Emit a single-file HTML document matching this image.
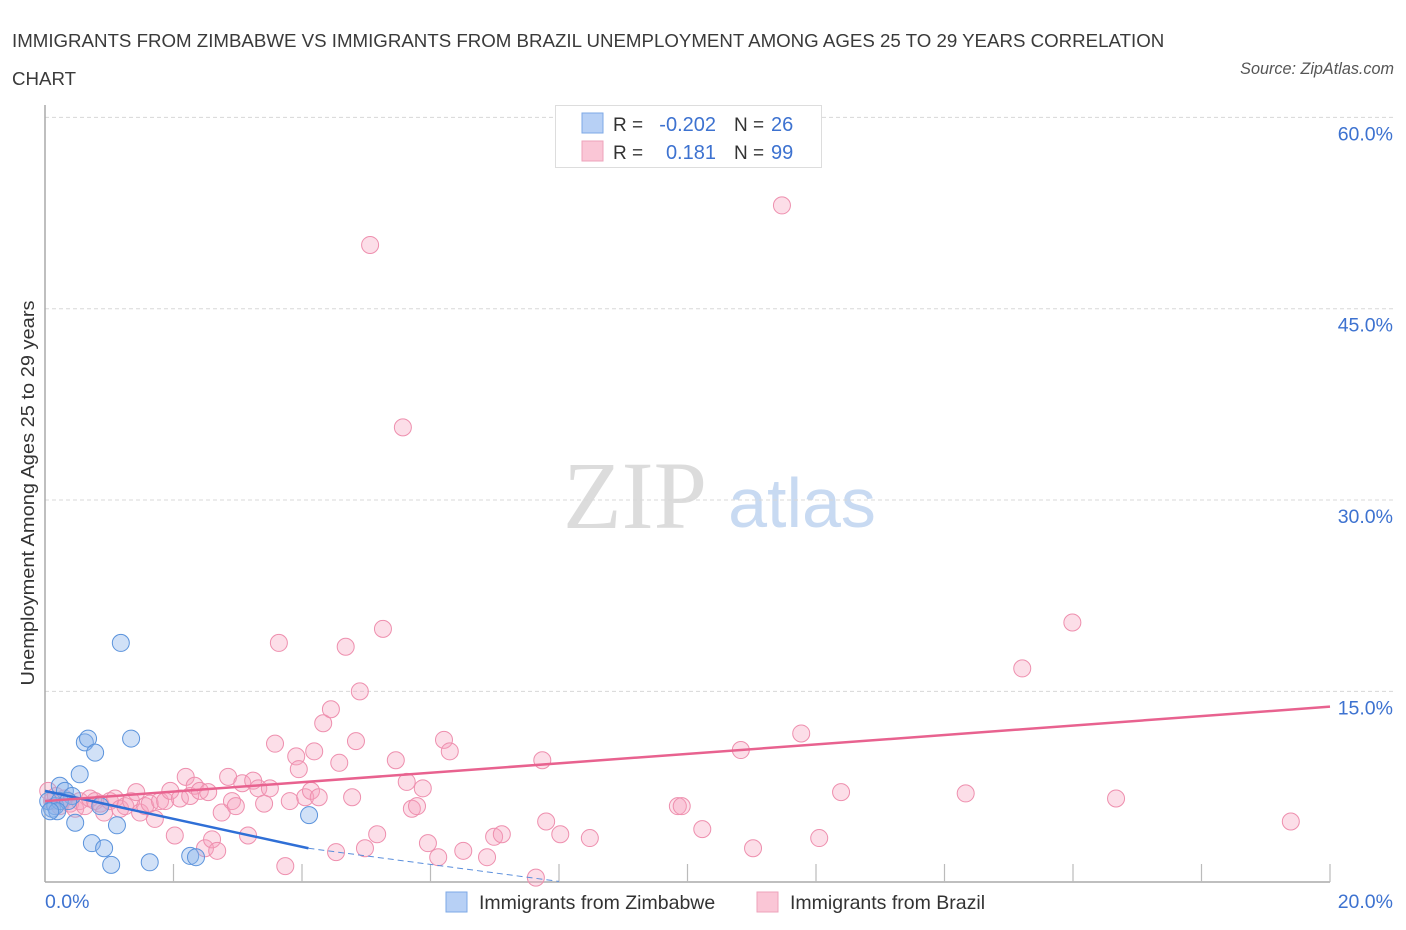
<!DOCTYPE html>
<html><head><meta charset="utf-8"><style>
body{margin:0;background:#fff;font-family:"Liberation Sans",sans-serif;}
#wrap{position:relative;width:1406px;height:930px;}
.title{position:absolute;left:12px;top:22px;font-size:18.7px;color:#3a3a3a;line-height:38px;}
.src{position:absolute;right:12px;top:60px;font-size:16.2px;color:#555;font-style:italic;}
</style></head><body>
<div id="wrap">
<div class="title">IMMIGRANTS FROM ZIMBABWE VS IMMIGRANTS FROM BRAZIL UNEMPLOYMENT AMONG AGES 25 TO 29 YEARS CORRELATION<br>CHART</div>
<div class="src">Source: ZipAtlas.com</div>
<svg id="svg" width="1406" height="930" style="position:absolute;left:0;top:0"></svg>
</div>
<script>
const blueX=[0.11,0.05,0.16,0.23,0.31,0.42,0.47,0.54,0.62,0.67,0.78,0.86,0.73,0.92,1.03,1.12,1.18,1.34,1.63,2.26,2.35,4.11,0.23,0.36,0.19,0.08];
const blueY=[5.8,6.4,6.0,7.6,7.2,6.8,4.7,8.5,11.0,11.3,10.2,6.0,3.1,2.7,1.4,4.5,18.8,11.3,1.6,2.1,2.0,5.3,6.4,6.4,5.6,5.6];
const pinkX=[0.05,0.11,0.17,0.23,0.30,0.39,0.47,0.54,0.62,0.70,0.78,0.86,0.92,1.01,1.09,1.17,1.25,1.34,1.42,1.48,1.56,1.63,1.71,1.79,1.87,1.95,2.02,2.10,2.19,2.26,2.33,2.41,2.49,2.54,2.60,2.68,2.75,2.85,2.91,2.97,3.07,3.16,3.24,3.32,3.41,3.50,3.58,3.64,3.74,3.81,3.91,3.95,4.05,4.14,4.19,4.26,4.33,4.45,4.53,4.58,4.68,4.78,4.84,4.90,4.98,5.06,5.17,5.26,5.46,5.57,5.63,5.71,5.79,5.88,5.96,6.12,6.21,6.30,6.51,6.88,6.99,7.11,7.64,7.74,7.80,8.02,8.48,9.85,9.91,10.23,10.83,11.02,11.47,11.77,12.05,12.39,14.33,15.21,15.99,16.67,19.39];
const pinkY=[7.2,6.4,6.8,6.0,6.6,6.2,5.8,6.4,6.0,6.6,6.4,6.2,5.5,6.4,6.6,5.8,6.0,6.4,7.1,5.5,6.0,6.2,5.0,6.4,6.4,7.2,3.7,6.6,8.3,6.8,7.6,7.2,2.7,7.1,3.4,2.5,5.5,8.3,6.4,6.0,7.8,3.7,8.0,7.4,6.2,7.4,10.9,18.8,1.3,6.4,9.9,8.9,6.7,7.2,10.3,6.7,12.5,13.6,2.4,9.4,18.5,6.7,11.1,15.0,2.7,50.0,3.8,19.9,9.6,35.7,7.9,5.8,6.0,7.4,3.1,2.0,11.2,10.3,2.5,2.0,3.6,3.8,0.4,9.6,4.8,3.8,3.5,6.0,6.0,4.2,10.4,2.7,53.1,11.7,3.5,7.1,7.0,16.8,20.4,6.6,4.8];
const yTicks=[15,30,45,60];
const yTickLabels=["15.0%","30.0%","45.0%","60.0%"];
const xTicks=[0,2,4,6,8,10,12,14,16,18,20];
const blueTrendX=[0,4.1,8.0];
const blueTrendY=[7.2,2.7,-1.5];
const pinkTrendX=[0,20];
const pinkTrendY=[6.4,13.8];

const NS="http://www.w3.org/2000/svg";
const svg=document.getElementById('svg');
const X=v=>45+v*64.25;
const Y=v=>882.7-v*12.755;
function mk(t,a,p){const e=document.createElementNS(NS,t);for(const k in a)e.setAttribute(k,a[k]);(p||svg).appendChild(e);return e;}

let wm=mk('text',{x:635,y:528,'font-size':96,'font-family':'Liberation Serif, serif',fill:'#dcdcdc','text-anchor':'middle'});
wm.textContent='ZIP';


let wm2=mk('text',{x:802,y:527,'font-size':70,'font-family':'Liberation Sans, sans-serif',fill:'#c8daf2','text-anchor':'middle'});
wm2.textContent='atlas';



yTicks.forEach((t,i)=>{
  let g=mk('line',{x1:45,x2:1395,y1:Y(t),y2:Y(t),stroke:'#d8d8d8','stroke-dasharray':'4,3'});
  
  
  let l=mk('text',{x:1393,y:Y(t)+23,'font-size':19.5,fill:'#3d72d0','text-anchor':'end'});
  l.textContent=yTickLabels[i];
  
  
});
let ax=mk('line',{x1:45,x2:45,y1:105,y2:882,stroke:'#aaa','stroke-width':1.5});


let bx=mk('line',{x1:45,x2:1330,y1:882,y2:882,stroke:'#aaa','stroke-width':1.5});


xTicks.forEach(t=>{if(t===0)return;
  let k=mk('line',{x1:X(t),x2:X(t),y1:864,y2:882,stroke:'#bbb','stroke-width':1.2});
  
  
});
let x0=mk('text',{x:45,y:908,'font-size':19.5,fill:'#3d72d0'});x0.textContent='0.0%';


let x1=mk('text',{x:1393,y:908,'font-size':19.5,fill:'#3d72d0','text-anchor':'end'});x1.textContent='20.0%';


let yt=mk('text',{x:0,y:0,'font-size':18.5,fill:'#333','text-anchor':'middle',textLength:385,lengthAdjust:'spacingAndGlyphs',transform:'translate(34,493) rotate(-90)'});
yt.textContent='Unemployment Among Ages 25 to 29 years';



pinkX.forEach((v,i)=>{
  let c=mk('circle',{cx:X(v),cy:Y(pinkY[i]),r:8.5,fill:'rgba(246,160,188,0.35)',stroke:'#ee8fae','stroke-width':1});
  
  
});
blueX.forEach((v,i)=>{
  let c=mk('circle',{cx:X(v),cy:Y(blueY[i]),r:8.5,fill:'rgba(140,180,235,0.4)',stroke:'#5b93dc','stroke-width':1});
  
  
});
let bt=mk('line',{x1:X(blueTrendX[0]),y1:Y(blueTrendY[0]),x2:X(blueTrendX[1]),y2:Y(blueTrendY[1]),stroke:'#2f6fd6','stroke-width':2.5});


let bd=mk('line',{x1:X(blueTrendX[1]),y1:Y(blueTrendY[1]),x2:X(blueTrendX[2]),y2:Y(Math.max(blueTrendY[2],0.1)),stroke:'#5b8fdc','stroke-width':1,'stroke-dasharray':'6,4'});


let pt=mk('line',{x1:X(pinkTrendX[0]),y1:Y(pinkTrendY[0]),x2:X(pinkTrendX[1]),y2:Y(pinkTrendY[1]),stroke:'#e8628f','stroke-width':2.5});



let lg=mk('g',{});


mk('rect',{x:555.5,y:105.5,width:266,height:62,fill:'#fff',stroke:'#ddd'},lg);
mk('rect',{x:582,y:113,width:21,height:20,fill:'#b7d0f5',stroke:'#7ea8e6'},lg);
mk('rect',{x:582,y:141,width:21,height:20,fill:'#fac6d6',stroke:'#eea3bb'},lg);
[[131,'-0.202','26'],[159,'0.181','99']].forEach(r=>{
  let a=mk('text',{x:613,y:r[0],'font-size':19,fill:'#333'},lg);a.textContent='R =';
  let b=mk('text',{x:716,y:r[0],'font-size':20,fill:'#3d72d0','text-anchor':'end'},lg);b.textContent=r[1];
  let c=mk('text',{x:734,y:r[0],'font-size':19,fill:'#333'},lg);c.textContent='N =';
  let d=mk('text',{x:771,y:r[0],'font-size':20,fill:'#3d72d0'},lg);d.textContent=r[2];
});
[[446,'Immigrants from Zimbabwe','#b7d0f5','#7ea8e6','legend-zimbabwe'],[757,'Immigrants from Brazil','#fac6d6','#eea3bb','legend-brazil']].forEach(r=>{
  let g=mk('g',{});
  
  
  mk('rect',{x:r[0],y:892,width:21,height:20,fill:r[2],stroke:r[3]},g);
  let t=mk('text',{x:r[0]+33,y:909,'font-size':19.5,fill:'#333'},g);t.textContent=r[1];
});
</script>
</body></html>
